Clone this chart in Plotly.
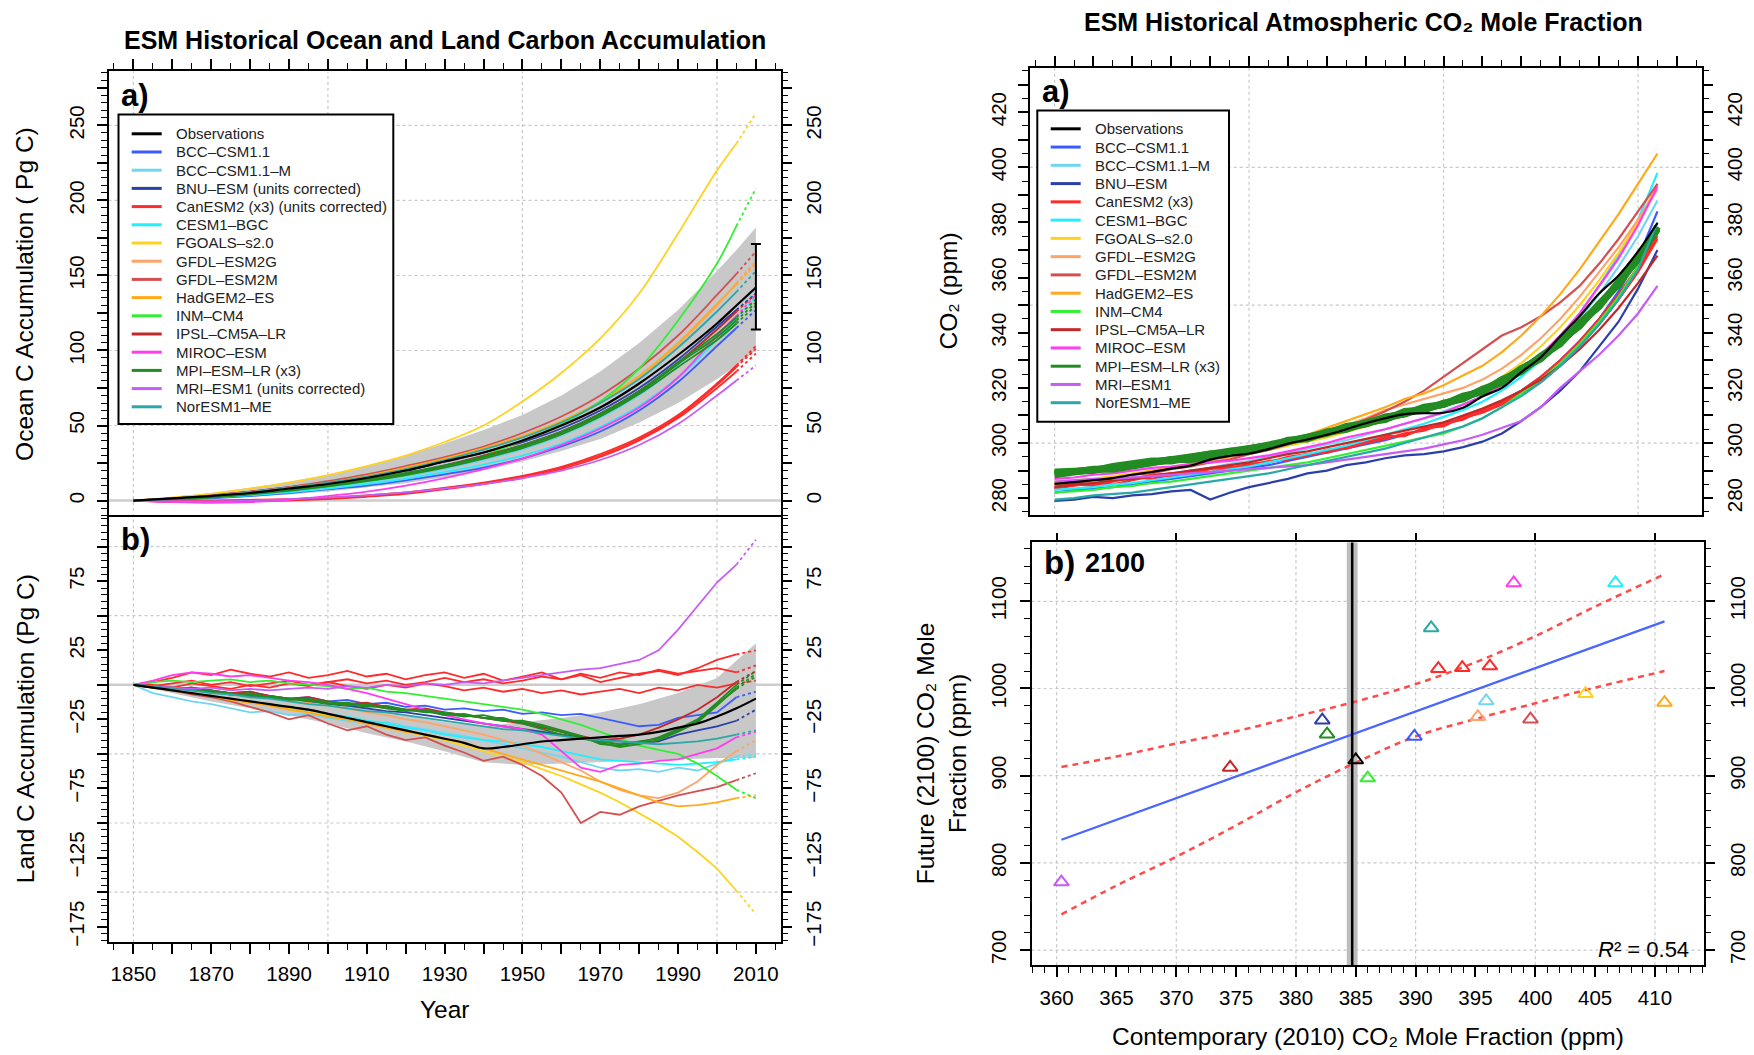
import plotly.graph_objects as go

W, H = 1754, 1055
FONT = "Liberation Sans, Arial, Helvetica, sans-serif"

# ============================ DATA ============================
LEFT_LABELS = ["Observations", "BCC–CSM1.1", "BCC–CSM1.1–M", "BNU–ESM (units corrected)",
               "CanESM2 (x3) (units corrected)", "CESM1–BGC", "FGOALS–s2.0", "GFDL–ESM2G",
               "GFDL–ESM2M", "HadGEM2–ES", "INM–CM4", "IPSL–CM5A–LR", "MIROC–ESM",
               "MPI–ESM–LR (x3)", "MRI–ESM1 (units corrected)", "NorESM1–ME"]
RIGHT_LABELS = ["Observations", "BCC–CSM1.1", "BCC–CSM1.1–M", "BNU–ESM", "CanESM2 (x3)",
                "CESM1–BGC", "FGOALS–s2.0", "GFDL–ESM2G", "GFDL–ESM2M", "HadGEM2–ES",
                "INM–CM4", "IPSL–CM5A–LR", "MIROC–ESM", "MPI–ESM–LR (x3)", "MRI–ESM1",
                "NorESM1–ME"]
KEYS = ["OBS", "BCC1", "BCCM", "BNU", "CAN", "CESM", "FGOALS", "ESM2G", "ESM2M", "HADGEM",
        "INM", "IPSL", "MIROC", "MPI", "MRI", "NOR"]
COLORS = ["#000000", "#3a5cff", "#72d6f2", "#2b3fa8", "#ff2a2a", "#22eeff", "#ffd21f",
          "#ffa468", "#d45050", "#ffaa1a", "#33ee33", "#c22828", "#ff3cf0", "#228b22",
          "#c75cf5", "#2aa8a8"]

# ---- (a) ocean carbon accumulation (Pg C) ----
OCEAN_YEARS = [1850, 1860, 1870, 1880, 1890, 1900, 1910, 1920, 1930, 1940, 1950, 1960, 1970,
               1980, 1990, 2000, 2005, 2010]
OCEAN_OBS = [0, 1.5, 3, 5, 8, 11, 15, 20, 26, 32, 40, 50, 62, 78, 97, 118, 130, 142]
OCEAN_OBS_HI = [0, 2.5, 5, 8.5, 12.5, 17, 23, 30, 38, 47, 57, 70, 86, 105, 127, 153, 167, 182]
OCEAN_OBS_LO = [0, 0.5, 1.5, 2.5, 4, 6, 8.5, 11.5, 15.5, 20, 26, 33, 41, 52, 65, 81, 90, 100]
OCEAN_ERR_YEAR = 2010
OCEAN_ERR_LOW = 114
OCEAN_ERR_HIGH = 171
OCEAN = {
    "BCC1": [[0, 0.5, 1.5, 3, 5, 7.5, 10, 13.5, 17.5, 22, 28, 36, 46, 60, 79, 103, 115, 127]],
    "BCCM": [[0, 1, 2.5, 4, 6.5, 9, 12, 16, 21, 27, 34, 43, 55, 70, 90, 115, 127, 140]],
    "BNU": [[0, 1.5, 3.5, 6, 9, 12, 16, 20, 26, 32, 39, 48, 60, 75, 94, 116, 127, 138]],
    "CAN": [[0, -0.5, -0.5, 0, 0.5, 1.5, 3, 5, 8, 11.5, 16, 22, 30, 41, 56, 77, 89, 101],
            [0, -0.5, 0, 0.5, 1, 2, 3.5, 5.5, 8.5, 12, 16.5, 22.5, 31, 42, 57, 78, 90, 103],
            [0, -1, -1, -0.5, 0, 1, 2.5, 4.5, 7.5, 11, 15, 21, 29, 40, 55, 75, 86, 98]],
    "CESM": [[0, 1, 2, 3.5, 5.5, 8, 11, 14.5, 19, 24, 30, 38, 49, 63, 82, 107, 121, 136]],
    "FGOALS": [[0, 2, 4.5, 8, 12, 17, 23, 30, 39, 50, 66, 85, 108, 138, 178, 220, 238, 258]],
    "ESM2G": [[0, 1.5, 3, 5.5, 8.5, 12, 16, 21, 27, 34, 42, 52, 65, 82, 104, 130, 145, 160]],
    "ESM2M": [[0, 1.5, 3.5, 6, 9, 13, 17.5, 23, 29, 36, 45, 56, 70, 88, 110, 137, 151, 166]],
    "HADGEM": [[0, 1.5, 3, 5.5, 8.5, 12, 16.5, 22, 28, 35, 43, 53, 66, 83, 105, 131, 144, 158]],
    "INM": [[0, 1, 2.5, 4.5, 7, 9.5, 13, 17, 23, 30, 40, 51, 66, 88, 120, 158, 183, 208]],
    "IPSL": [[0, 1, 2.5, 4.5, 7, 10, 13.5, 18, 23.5, 30, 37, 46, 58, 73, 92, 114, 126, 138]],
    "MIROC": [[0, -1, -1.5, -1, 0.5, 3, 6, 10, 15, 21, 28, 37, 48, 62, 82, 110, 123, 137]],
    "MPI": [[0, 1, 2.5, 4.5, 7, 10, 13.5, 18, 23, 29, 36, 45, 57, 72, 91, 109, 120, 132],
            [0, 1, 2, 4, 6.5, 9.5, 13, 17, 22, 28, 35, 44, 56, 71, 89, 107, 118, 130],
            [0, 1.5, 3, 5, 7.5, 10.5, 14, 18.5, 23.5, 29.5, 37, 46, 58, 73, 92, 111, 122, 134]],
    "MRI": [[0, -0.5, -0.5, 0, 1, 2, 3.5, 5.5, 8, 11, 15, 20, 27, 37, 51, 70, 80, 90]],
    "NOR": [[0, 1.5, 3, 5.5, 8.5, 12, 16, 21, 27, 34, 42, 52, 65, 81, 102, 126, 139, 153]],
}

# ---- (b) land carbon accumulation (Pg C) ----
LAND_YEARS = list(range(1850, 2011, 5))
LAND_OBS = [0, -2, -4, -6, -8, -10, -12, -14, -16, -18, -21, -24, -27, -30, -33, -36, -39, -42,
            -46, -45, -43, -41, -40, -39, -38, -37, -36, -34, -31, -28, -23, -17, -10]
LAND_BAND_YEARS = list(range(1850, 2011, 10))
LAND_OBS_HI = [0, -2, -4, -7, -10, -13, -17, -22, -27, -30, -27, -24, -20, -14, -6, 5, 30]
LAND_OBS_LO = [0, -6, -12, -17, -22, -28, -35, -41, -48, -56, -58, -57, -56, -55, -54, -53, -53]
LAND = {
    "BCC1": [[0, -1, -3, -2, -4, -6, -5, -8, -10, -9, -12, -11, -14, -13, -16, -15, -18, -17, -19,
              -18, -21, -20, -22, -21, -24, -27, -30, -29, -24, -22, -20, -9, -5]],
    "BCCM": [[0, -6, -9, -12, -14, -17, -20, -19, -22, -21, -24, -26, -28, -27, -30, -32, -35, -37,
              -40, -43, -46, -49, -52, -56, -60, -62, -61, -63, -60, -62, -57, -52, -50]],
    "BNU": [[0, -1, -2, -3, -5, -6, -8, -9, -11, -12, -14, -15, -17, -19, -20, -22, -24, -26, -28,
             -30, -32, -34, -36, -38, -40, -41, -42, -41, -36, -33, -30, -26, -18]],
    "CAN": [[0, 2, 5, 9, 7, 11, 8, 6, 9, 5, 7, 10, 6, 8, 4, 7, 9, 5, 8, 3, 6, 9, 4, 7, 2, 5, 8, 10,
             7, 12, 18, 22, 25],
            [0, -1, 1, 3, 0, 2, -1, 1, 3, 0, 2, 4, 1, 3, 0, 2, 5, 2, 4, 1, 3, 6, 4, 8, 5, 9, 7, 11,
             8, 10, 12, 9, 14],
            [0, 0, -2, 1, -1, -3, 0, -2, 1, -1, 2, -1, -3, 0, -2, 1, -1, -4, -2, -5, -3, -6, -4, -7,
             -5, -3, -6, -2, -4, 0, -2, 1, 3]],
    "CESM": [[0, -2, -4, -6, -8, -10, -12, -14, -16, -18, -21, -23, -26, -28, -31, -33, -36, -38,
              -40, -41, -43, -45, -48, -51, -54, -55, -56, -57, -58, -57, -56, -54, -52]],
    "FGOALS": [[0, -2, -4, -6, -8, -10, -12, -15, -17, -20, -22, -25, -28, -31, -34, -37, -40, -44,
                -48, -52, -56, -61, -66, -72, -78, -85, -93, -101, -110, -121, -133, -149, -166]],
    "ESM2G": [[0, -1, -3, -2, -5, -7, -6, -9, -11, -13, -15, -17, -20, -22, -25, -27, -30, -33,
               -36, -40, -44, -50, -56, -62, -70, -76, -80, -82, -78, -70, -58, -48, -40]],
    "ESM2M": [[0, -2, -4, -7, -9, -12, -16, -20, -25, -22, -28, -33, -30, -36, -40, -38, -44, -49,
               -55, -52, -58, -66, -78, -100, -92, -94, -88, -84, -80, -77, -74, -69, -64]],
    "HADGEM": [[0, -2, -4, -6, -8, -11, -13, -15, -18, -20, -23, -25, -28, -31, -34, -36, -39, -42,
                -46, -50, -54, -58, -62, -66, -70, -75, -80, -85, -88, -87, -85, -82, -80]],
    "INM": [[0, 2, 3, 2, 3, 4, 2, 3, 1, 0, -1, -3, -2, -5, -6, -8, -10, -12, -14, -16, -18, -21,
             -25, -29, -34, -39, -44, -47, -50, -57, -66, -76, -82]],
    "IPSL": [[0, -1, -3, -2, -4, -6, -5, -8, -10, -9, -12, -14, -13, -16, -18, -17, -20, -22, -24,
              -26, -28, -31, -34, -37, -40, -39, -36, -31, -25, -18, -9, 2, 10]],
    "MIROC": [[0, 3, 7, 9, 8, 6, 7, 5, 3, 2, 0, -3, -6, -10, -14, -18, -22, -25, -28, -30, -32,
               -36, -48, -60, -63, -58, -57, -55, -54, -50, -46, -38, -34]],
    "MPI": [[0, -1, -3, -2, -5, -7, -6, -9, -11, -10, -13, -15, -14, -17, -19, -18, -21, -23, -22,
             -25, -27, -30, -34, -38, -42, -45, -43, -40, -34, -27, -15, -2, 8],
            [0, -2, -2, -4, -5, -6, -8, -8, -10, -12, -12, -14, -16, -15, -18, -20, -20, -22, -24,
             -24, -28, -32, -36, -39, -41, -43, -42, -38, -32, -25, -13, 0, 10],
            [0, -1, -2, -3, -4, -7, -7, -9, -10, -11, -14, -13, -15, -17, -18, -19, -22, -21, -24,
             -26, -26, -29, -33, -37, -43, -44, -41, -39, -33, -26, -14, -3, 6]],
    "MRI": [[0, -1, -2, -3, -2, -4, -3, -4, -3, -2, -3, -1, -2, 0, -1, 1, 0, 2, 1, 3, 5, 7, 9, 11,
             12, 15, 18, 25, 40, 57, 74, 87, 105]],
    "NOR": [[0, -1, -3, -4, -6, -7, -9, -10, -12, -14, -15, -17, -19, -20, -22, -24, -26, -28, -30,
             -32, -33, -35, -37, -39, -40, -41, -42, -43, -42, -41, -39, -36, -33]],
}

# ---- right (a) atmospheric CO2 (ppm) ----
CO2_YEARS = list(range(1850, 2006, 5))
CO2_OBS = [285.2, 285.8, 286.5, 287.3, 288.5, 289.5, 290.7, 291.8, 294.0, 295.3, 296.2, 297.8,
           299.8, 301.3, 303.0, 305.0, 307.2, 309.0, 310.5, 310.8, 311.0, 312.8, 316.9, 320.0,
           325.7, 331.1, 338.7, 346.0, 354.2, 360.8, 369.5, 379.8]
CO2 = {
    "BCC1": [[282, 283, 283.5, 284, 285, 286, 287, 288, 289, 290, 291, 292, 293.5, 295, 296.5,
              298, 299.5, 301, 303, 305, 307, 309, 312, 315, 319, 324, 330, 337, 345, 355, 367, 384]],
    "BCCM": [[284, 285, 285.5, 286.5, 287.5, 288, 289, 290, 291, 292.5, 293.5, 295, 296.5, 298,
              299.5, 301, 303, 305, 307, 309, 311.5, 314, 317, 321, 325, 330, 337, 345, 354, 364,
              375, 388]],
    "BNU": [[279, 279.5, 280.5, 280, 281, 281.5, 282.5, 283, 279.5, 282, 284, 285.5, 287, 289, 290,
             292, 293, 294.5, 295.5, 296, 297, 298.5, 300.5, 303.5, 308, 313, 319, 326, 335, 344,
             356, 370]],
    "CAN": [[284, 285, 284.5, 286, 287.5, 287, 288.5, 290, 289.5, 291, 292.5, 293, 294.5, 296, 297,
             299, 300.5, 302, 303, 305, 306.5, 309, 311, 314, 318, 322, 328, 335, 343, 352, 362, 374],
            [283.5, 284.5, 285.5, 285, 286.5, 288, 288, 289.5, 291, 290.5, 292, 293.5, 294, 295.5,
             297.5, 298, 300, 301.5, 303.5, 304.5, 307, 308.5, 312, 315, 319, 324, 330, 337, 345,
             354, 364, 376],
            [284.5, 285, 285, 286.5, 287, 288.5, 289, 289, 290.5, 291.5, 291.5, 293, 295, 296,
             296.5, 298.5, 301, 302.5, 302.5, 305.5, 306, 309.5, 311.5, 314.5, 318.5, 323, 329, 336,
             344, 353, 363, 375]],
    "CESM": [[283, 283.5, 284, 285, 285.5, 286.5, 287.5, 288.5, 289.5, 290.5, 291.5, 293, 294.5, 296,
              297.5, 299, 301, 303, 305, 307, 309.5, 312, 315, 319, 324, 330, 338, 347, 357, 368,
              381, 398]],
    "FGOALS": [[286, 286.5, 287, 288, 289, 290, 291, 292, 293, 294.5, 296, 297.5, 299, 300.5, 302,
                304, 306, 308, 310, 312, 314.5, 317, 320, 324, 329, 335, 342, 350, 359, 369, 380,
                394]],
    "ESM2G": [[285, 286, 286.5, 287.5, 288.5, 289.5, 291, 292, 293.5, 295, 296.5, 298, 300, 302,
               304, 306.5, 309, 312, 314, 316, 318, 320, 323, 327, 332, 338, 345, 353, 362, 371,
               381, 392]],
    "ESM2M": [[285, 285.5, 286.5, 287, 288.5, 289, 290.5, 291.5, 293, 294, 296, 297.5, 299.5,
               301.5, 303.5, 306, 308.5, 311.5, 315, 319, 324, 329, 334, 339, 342, 346, 351, 357,
               365, 374, 384, 394]],
    "HADGEM": [[285, 286, 286.5, 287.5, 288.5, 290, 291, 292.5, 294, 295.5, 297, 299, 301, 303,
                305.5, 308, 310.5, 313, 316, 318, 321, 324.5, 328, 333, 339, 346, 354, 363, 373,
                383, 394, 405]],
    "INM": [[282, 282.5, 283, 284, 284.5, 285.5, 286, 287, 288, 289, 290, 291, 292, 293, 294.5,
             296, 297.5, 299, 300.5, 302, 303.5, 306, 309, 313, 318, 323, 329, 336, 344, 353, 364,
             378]],
    "IPSL": [[284, 285, 285.5, 286.5, 287, 288, 289, 290, 291, 292, 293, 294.5, 296, 297, 298.5,
              300, 301.5, 303, 304.5, 306, 307.5, 310, 312.5, 315.5, 319, 323, 328, 334, 341, 349,
              358, 368]],
    "MIROC": [[287, 287.5, 288.5, 289, 290, 291, 291.5, 292.5, 293, 293.5, 294.5, 295.5, 297,
               298.5, 300, 302, 303.5, 305, 307, 309, 311, 314, 317, 321, 326, 332, 339, 347, 357,
               367, 379, 393]],
    "MPI": [[289, 289.5, 290, 291, 292, 293, 293.5, 294.5, 295.5, 296.5, 297.5, 299, 300.5, 302,
             303.5, 305.5, 307, 309, 311, 312.5, 314, 316.5, 319, 322.5, 326.5, 331, 336.5, 343,
             350, 358, 367, 378],
            [288.5, 289.5, 290.5, 290.5, 291.5, 292.5, 294, 294, 295, 297, 297, 298.5, 301, 301.5,
             304, 305, 307.5, 308.5, 311.5, 312, 314.5, 316, 319.5, 322, 327, 330.5, 337, 342.5,
             350.5, 357.5, 367.5, 377.5],
            [289.5, 290, 290, 291.5, 292.5, 293.5, 293.5, 295, 296, 296.5, 298, 299.5, 300.5,
             302.5, 303.5, 306, 307, 309.5, 310.5, 313, 314, 317, 318.5, 323, 326, 331.5, 336,
             343.5, 349.5, 358.5, 366.5, 378.5]],
    "MRI": [[286, 286.5, 287, 287, 287.5, 288, 288.5, 289, 289.5, 290, 290.5, 291, 291.5, 292, 293,
             294, 295, 296, 297, 298, 299.5, 301, 303, 305.5, 308, 313, 320, 326, 332, 339, 347,
             357]],
    "NOR": [[279.5, 280, 281, 281.5, 282, 283, 284, 285, 286, 287, 288, 289, 290.5, 292, 293.5,
             295, 296.5, 298, 300, 302, 304, 306, 309, 313, 317, 322, 328, 335, 343, 352, 363,
             380]],
}

# ---- right (b) 2100 vs 2010 CO2 scatter (ppm) ----
SC_KEYS = ["OBS", "BCC1", "BCCM", "BNU", "CAN", "CAN", "CAN", "CESM", "FGOALS", "ESM2G",
           "ESM2M", "HADGEM", "INM", "IPSL", "MIROC", "MPI", "MRI", "NOR"]
SC_X = [385.0, 389.9, 395.9, 382.2, 391.9, 393.9, 396.2, 406.7, 404.2, 395.2, 399.6, 410.8,
        386.0, 374.5, 398.2, 382.6, 360.4, 391.3]
SC_Y = [918, 945, 985.7, 963.6, 1022.7, 1023.8, 1025.7, 1121, 994, 967.6, 964.8, 983.8, 897.3,
        909.5, 1121, 947.6, 778, 1069.5]
FIT_X = [360.4, 410.8]
FIT_Y = [826.5, 1077]
CI_X = [360.4, 365, 370, 375, 380, 385, 390, 395, 400, 405, 410.8]
CI_UP = [910, 922, 937, 951, 968, 985, 1005, 1030, 1060, 1094, 1131]
CI_LO = [741, 774, 807, 843, 881, 915, 945, 965, 983, 1001, 1020]
OBS_CO2_2010 = 384.7
OBS_CO2_2010_UNC = 0.45
R2_TEXT = "0.54"

# tick / grid positions
YEAR_TICKS = list(range(1850, 2011, 10))
YEAR_LABELS = list(range(1850, 2011, 20))
OCEAN_TICKS = list(range(0, 276, 25))
OCEAN_LABELS = [0, 50, 100, 150, 200, 250]
LAND_TICKS = list(range(-175, 101, 25))
LAND_LABELS = [-175, -125, -75, -25, 25, 75]
CO2_TICKS = list(range(280, 431, 10))
CO2_LABELS = list(range(280, 421, 20))
SC_XTICKS = list(range(360, 411, 5))
SC_XTOP = list(range(360, 411, 10))
SC_YTICKS = list(range(700, 1101, 100))
YEAR_GRID = [1850, 1900, 1950, 2000]
OCEAN_GRID = [50, 100, 150, 200, 250]
LAND_GRID = [-150, -100, -50, 50, 100]
CO2_GRID = [300, 350, 400]
SC_XGRID = [360, 370, 380, 390, 400, 410]
SC_YGRID = [700, 800, 900, 1000, 1100]

# ============================ FIGURE ============================
CMAP = dict(zip(KEYS, COLORS))


def PX(x):
    return x / W


def PY(y):
    return 1 - y / H


fig = go.Figure()


def line(x, y, color, width, xa, ya, dash=None, shape="linear"):
    fig.add_trace(go.Scatter(x=x, y=y, mode="lines", xaxis=xa, yaxis=ya, showlegend=False,
                             hoverinfo="skip",
                             line=dict(color=color, width=width, dash=dash, shape=shape)))


def band(x, lo, hi, xa, ya, color="#c8c8c8"):
    fig.add_trace(go.Scatter(x=x, y=lo, mode="lines", line=dict(width=0, color=color),
                             xaxis=xa, yaxis=ya, showlegend=False, hoverinfo="skip"))
    fig.add_trace(go.Scatter(x=x, y=hi, mode="lines", line=dict(width=0, color=color),
                             fill="tonexty", fillcolor=color, xaxis=xa, yaxis=ya,
                             showlegend=False, hoverinfo="skip"))


def series_split(years, vals, color, xa, ya, width, shape="linear"):
    n = len([y for y in years if y <= 2005])
    line(years[:n], vals[:n], color, width, xa, ya, shape=shape)
    line(years[n - 1:], vals[n - 1:], color, width, xa, ya, dash="dot", shape=shape)


# ---- ocean ----
band(OCEAN_YEARS, OCEAN_OBS_LO, OCEAN_OBS_HI, "x", "y")
for k in KEYS[1:]:
    for s in OCEAN[k]:
        series_split(OCEAN_YEARS, s, CMAP[k], "x", "y", 1.8, shape="spline")
line(OCEAN_YEARS, OCEAN_OBS, "#000000", 2.2, "x", "y", shape="spline")
fig.add_trace(go.Scatter(x=[OCEAN_ERR_YEAR], y=[(OCEAN_ERR_LOW + OCEAN_ERR_HIGH) / 2],
                         mode="markers", marker=dict(size=1, color="black"),
                         error_y=dict(type="data", array=[(OCEAN_ERR_HIGH - OCEAN_ERR_LOW) / 2],
                                      color="black", thickness=2, width=5),
                         xaxis="x", yaxis="y", showlegend=False, hoverinfo="skip"))

# ---- land ----
band(LAND_BAND_YEARS, LAND_OBS_LO, LAND_OBS_HI, "x2", "y2")
for k in KEYS[1:]:
    for s in LAND[k]:
        series_split(LAND_YEARS, s, CMAP[k], "x2", "y2", 1.8)
line(LAND_YEARS, LAND_OBS, "#000000", 2.2, "x2", "y2", shape="spline")

# ---- CO2 ----
for k in KEYS[1:]:
    for s in CO2[k]:
        w = 7 if k == "MPI" else 2.2
        line(CO2_YEARS, s, CMAP[k], w, "x3", "y5")
line(CO2_YEARS, CO2_OBS, "#000000", 2.2, "x3", "y5", shape="spline")

# ---- scatter ----
line(CI_X, CI_UP, "#ff4a4a", 2.5, "x4", "y7", dash="6px,5px", shape="spline")
line(CI_X, CI_LO, "#ff4a4a", 2.5, "x4", "y7", dash="6px,5px", shape="spline")
line(FIT_X, FIT_Y, "#4a66ff", 2.2, "x4", "y7")
fig.add_trace(go.Scatter(x=SC_X, y=SC_Y, mode="markers", xaxis="x4", yaxis="y7",
                         showlegend=False, hoverinfo="skip",
                         marker=dict(symbol="triangle-up-open", size=13,
                                     color=[CMAP[k] for k in SC_KEYS],
                                     line=dict(width=2, color=[CMAP[k] for k in SC_KEYS]))))

# ============================ AXES ============================
L_X = [PX(108.5), PX(780.8)]
L_YA = [PY(519), PY(71.7)]
L_YB = [PY(946), PY(519)]
R_X = [PX(1029.7), PX(1701.8)]
R_YA = [PY(516.7), PY(68.3)]
S_X = [PX(1031.5), PX(1704)]
R_YB = [PY(969), PY(544.5)]

XR = [1843.6, 2016.4]
OR = [-11, 286]
LR = [-186.4, 121.4]
CR = [274, 436]
SXR = [357.9, 414.1]
SYR = [682.5, 1167.5]

TICKFONT = dict(size=20.5, color="black", family=FONT)
TICKLEN = 10
layout_axes = {}


def minor(dt, t0):
    return dict(ticks="outside", ticklen=6, tickwidth=1.4, tickcolor="black",
                tickmode="linear", dtick=dt, tick0=t0, showgrid=False)


def base(rng, vals, labels, mdt=None, m0=0, invisible_ticks=False):
    d = dict(range=rng, tickmode="array", tickvals=vals, ticks="outside", ticklen=TICKLEN,
             tickwidth=1.6, tickcolor="rgba(0,0,0,0)" if invisible_ticks else "black",
             tickfont=TICKFONT, showgrid=False, zeroline=False, showline=False,
             showticklabels=labels)
    if labels:
        d["ticktext"] = [str(v).replace("-", "−") for v in vals]
    if mdt:
        d["minor"] = minor(mdt, m0)
    return d


dummy = []


def y_panel(main, domain, anchor, rng, tick_vals, label_vals, mdt, extra_ids):
    m = base(rng, tick_vals, False, mdt)
    m.update(domain=domain, anchor=anchor, side="left", showline=True, mirror=True,
             linecolor="black", linewidth=2)
    layout_axes["yaxis" + main[1:]] = m
    r_ticks, l_lab, r_lab = extra_ids
    t = base(rng, tick_vals, False, mdt)
    t.update(overlaying=main, anchor=anchor, side="right")
    layout_axes["yaxis" + r_ticks[1:]] = t
    for ident, side in [(l_lab, "left"), (r_lab, "right")]:
        lab = base(rng, label_vals, True, invisible_ticks=True)
        lab.update(overlaying=main, anchor=anchor, side=side, tickangle=-90,
                   ticklabelstandoff=5)
        layout_axes["yaxis" + ident[1:]] = lab
        dummy.append((anchor, ident, sum(rng) / 2))
    dummy.append((anchor, r_ticks, sum(rng) / 2))


y_panel("y", L_YA, "x", OR, OCEAN_TICKS, OCEAN_LABELS, 5, ("y3", "y9", "y10"))
y_panel("y2", L_YB, "x2", LR, LAND_TICKS, LAND_LABELS, 5, ("y4", "y11", "y12"))
y_panel("y5", R_YA, "x3", CR, CO2_TICKS, CO2_LABELS, 5, ("y6", "y13", "y14"))

sy = base(SYR, SC_YTICKS, True, 20, 0)
sy.update(domain=R_YB, anchor="x4", side="left", showline=True, mirror=True, linecolor="black",
          linewidth=2, tickangle=-90, ticklabelstandoff=5)
layout_axes["yaxis7"] = sy
sy2 = base(SYR, SC_YTICKS, True, 20, 0)
sy2.update(overlaying="y7", anchor="x4", side="right", tickangle=-90, ticklabelstandoff=5)
layout_axes["yaxis8"] = sy2
dummy.append(("x4", "y8", 900))

xo = base(XR, YEAR_TICKS, False, 5, 1850)
xo.update(domain=L_X, anchor="y", side="top", showline=True, linecolor="black", linewidth=2)
layout_axes["xaxis"] = xo
xl = base(XR, YEAR_TICKS, False, 5, 1850)
xl.update(domain=L_X, anchor="y2", side="bottom", showline=True, mirror=True,
          linecolor="black", linewidth=2)
layout_axes["xaxis2"] = xl
xll = base(XR, YEAR_LABELS, True, invisible_ticks=True)
xll.update(overlaying="x2", anchor="y2", side="bottom", ticklabelstandoff=3)
layout_axes["xaxis6"] = xll
dummy.append(("x6", "y2", 0))
xc = base(XR, YEAR_TICKS, False, 5, 1850)
xc.update(domain=R_X, anchor="y5", side="top", showline=True, mirror=True, linecolor="black",
          linewidth=2)
layout_axes["xaxis3"] = xc
xs = base(SXR, SC_XTICKS, True, 1, 360)
xs.update(domain=S_X, anchor="y7", side="bottom", showline=True, mirror=True,
          linecolor="black", linewidth=2, ticklabelstandoff=3)
layout_axes["xaxis4"] = xs
xst = base(SXR, SC_XTOP, False)
xst.update(overlaying="x4", anchor="y7", side="top", ticklen=8)
layout_axes["xaxis5"] = xst
dummy.append(("x5", "y7", 900))

for xa, ya, yv in dummy:
    xr = {"x": 1900, "x2": 1900, "x3": 1900, "x4": 380, "x5": 380, "x6": 1900}[xa]
    fig.add_trace(go.Scatter(x=[xr], y=[yv], mode="markers", marker=dict(opacity=0),
                             xaxis=xa, yaxis=ya, showlegend=False, hoverinfo="skip"))

fig.update_layout(**layout_axes)

# ============================ GRID SHAPES ============================
shapes = []
GRID = dict(color="#c8c8c8", width=1.2, dash="dot")


def vgrid(vals, xref, yref):
    for v in vals:
        shapes.append(dict(type="line", xref=xref, yref=yref + " domain", x0=v, x1=v, y0=0,
                           y1=1, line=GRID, layer="below"))


def hgrid(vals, xref, yref, style=GRID):
    for v in vals:
        shapes.append(dict(type="line", xref=xref + " domain", yref=yref, x0=0, x1=1, y0=v,
                           y1=v, line=style, layer="below"))


ZERO = dict(color="#cccccc", width=2.5)
vgrid(YEAR_GRID, "x", "y"); hgrid(OCEAN_GRID, "x", "y"); hgrid([0], "x", "y", ZERO)
vgrid(YEAR_GRID, "x2", "y2"); hgrid(LAND_GRID, "x2", "y2"); hgrid([0], "x2", "y2", ZERO)
vgrid(YEAR_GRID, "x3", "y5"); hgrid(CO2_GRID, "x3", "y5")
vgrid(SC_XGRID, "x4", "y7"); hgrid(SC_YGRID, "x4", "y7")
shapes.append(dict(type="rect", xref="x4", yref="y7 domain",
                   x0=OBS_CO2_2010 - OBS_CO2_2010_UNC, x1=OBS_CO2_2010 + OBS_CO2_2010_UNC,
                   y0=0, y1=1, fillcolor="#bdbdbd", line=dict(width=0), layer="below"))
shapes.append(dict(type="line", xref="x4", yref="y7 domain", x0=OBS_CO2_2010, x1=OBS_CO2_2010,
                   y0=0, y1=1, line=dict(color="black", width=2.5), layer="above"))

# ============================ TEXT ============================
ann = []


def A(x, y, text, size, bold=False, angle=0, xanchor="center", yanchor="middle", color="black"):
    t = f"<b>{text}</b>" if bold else text
    ann.append(dict(x=x, y=y, xref="paper", yref="paper", text=t, showarrow=False,
                    textangle=angle, xanchor=xanchor, yanchor=yanchor,
                    font=dict(size=size, color=color, family=FONT)))


def legend_block(box, row0, dy, lx0, lx1, tx, labels):
    x0, y0, x1, y1 = box
    shapes.append(dict(type="rect", xref="paper", yref="paper", x0=PX(x0), x1=PX(x1),
                       y0=PY(y1), y1=PY(y0), fillcolor="white",
                       line=dict(color="black", width=2), layer="above"))
    for i, lab in enumerate(labels):
        yy = row0 + dy * i
        shapes.append(dict(type="line", xref="paper", yref="paper", x0=PX(lx0), x1=PX(lx1),
                           y0=PY(yy), y1=PY(yy), line=dict(color=COLORS[i], width=3),
                           layer="above"))
        A(PX(tx), PY(yy), lab, 15, xanchor="left", color="#222222")


legend_block((118.5, 115, 393.3, 425.5), 134.3, 18.27, 131.7, 161.7, 174, LEFT_LABELS)
legend_block((1037.3, 111, 1229, 423.3), 129.3, 18.33, 1050.7, 1080.7, 1093.3, RIGHT_LABELS)

A(PX(444.7), PY(40), "ESM Historical Ocean and Land Carbon Accumulation", 25, bold=True)
A(PX(1363.5), PY(22), "ESM Historical Atmospheric CO₂ Mole Fraction", 25, bold=True)
A(PX(119), PY(76), "a)", 31, bold=True, xanchor="left", yanchor="top")
A(PX(119), PY(522), "b)", 31, bold=True, xanchor="left", yanchor="top")
A(PX(1040), PY(72), "a)", 31, bold=True, xanchor="left", yanchor="top")
A(PX(1042), PY(544), "b)", 33, bold=True, xanchor="left", yanchor="top")
A(PX(1083), PY(548), "2100", 27, bold=True, xanchor="left", yanchor="top")
A(PX(1691), PY(953), f"<i>R</i>² = {R2_TEXT}", 22, xanchor="right")
A(PX(25), PY(295), "Ocean C Accumulation ( Pg C)", 24.5, angle=-90)
A(PX(25), PY(732), "Land C Accumulation (Pg C)", 24.5, angle=-90)
A(PX(444.7), PY(1013), "Year", 24.5)
A(PX(948.5), PY(292), "CO₂ (ppm)", 24.5, angle=-90)
A(PX(941), PY(757), "Future (2100) CO₂ Mole<br>Fraction (ppm)", 24.5, angle=-90)
A(PX(1367.7), PY(1040), "Contemporary (2010) CO₂ Mole Fraction (ppm)", 24.5)

fig.update_layout(
    shapes=shapes, annotations=ann, showlegend=False,
    width=W, height=H, margin=dict(l=0, r=0, t=0, b=0),
    paper_bgcolor="white", plot_bgcolor="white",
    font=dict(family=FONT, color="black"),
)

fig.write_html("out.html")
